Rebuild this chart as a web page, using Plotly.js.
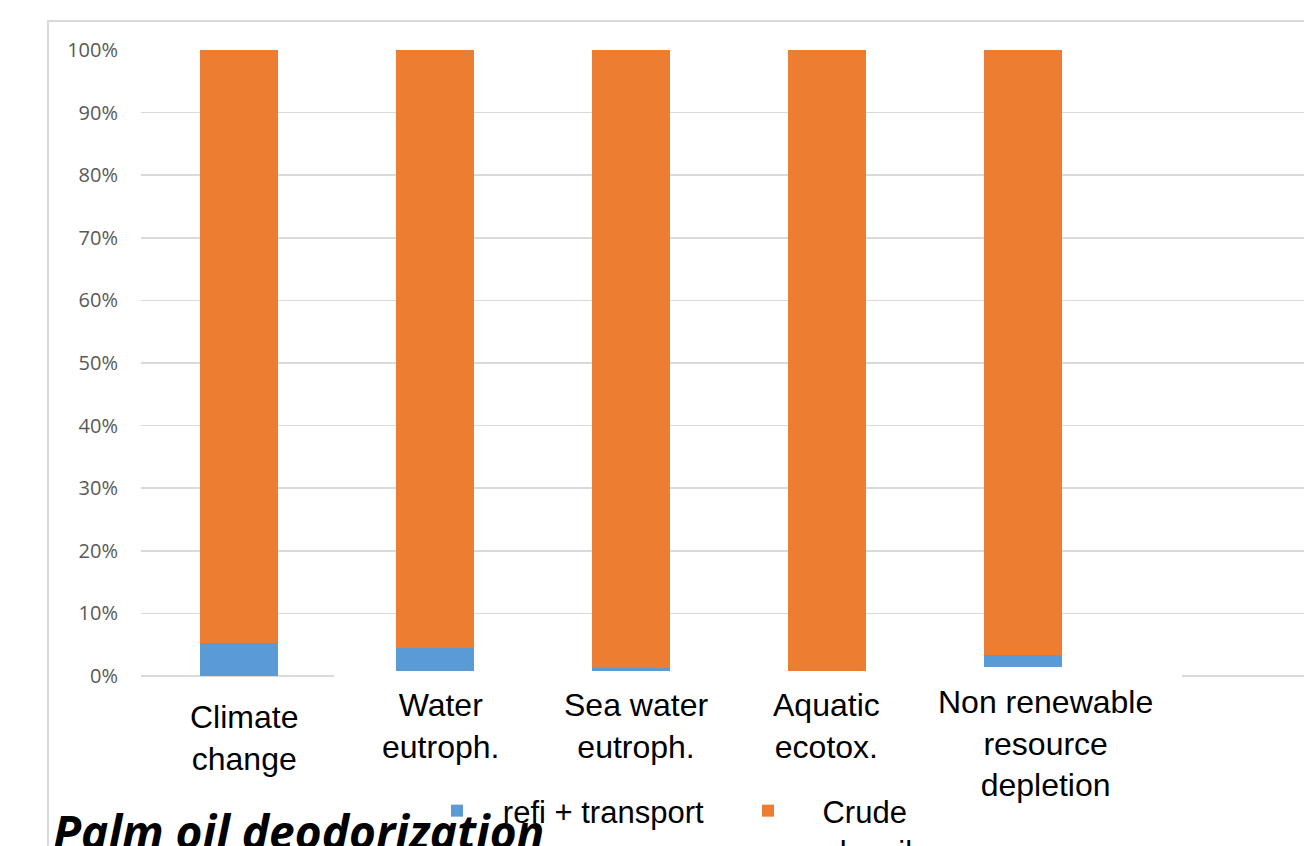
<!DOCTYPE html>
<html>
<head>
<meta charset="utf-8">
<script src="https://cdn.plot.ly/plotly-3.0.1.min.js"></script>
<style>
  html, body { margin: 0; padding: 0; background: #ffffff; overflow: hidden; width: 1304px; height: 846px; }
  #chart { position: absolute; left: 0; top: 0; width: 1330px; height: 846px; }
  #frame { position: absolute; left: 47px; top: 20px; width: 1400px; height: 900px;
           border-left: 2px solid #d9d9d9; border-top: 2px solid #d9d9d9; pointer-events: none; }
</style>
</head>
<body>
<div id="chart"></div>
<div id="frame"></div>
<script>
// ---- data ----
const categories = ['Climate change', 'Water eutroph.', 'Sea water eutroph.', 'Aquatic ecotox.', 'Non renewable resource depletion'];
const categoryLabels = ['Climate<br>change', 'Water<br>eutroph.', 'Sea water<br>eutroph.', 'Aquatic<br>ecotox.', 'Non renewable<br>resource<br>depletion'];
const refiTransport = [0.052, 0.044, 0.013, 0.004, 0.033];
const crudePalmOil = [0.948, 0.956, 0.987, 0.996, 0.967];
const yTickValues = [0, 0.1, 0.2, 0.3, 0.4, 0.5, 0.6, 0.7, 0.8, 0.9, 1.0];
const seriesNames = ['\u00a0\u00a0\u00a0refi + transport', '\u00a0\u00a0\u00a0\u00a0Crude<br>\u00a0\u00a0palm oil'];
const chartTitle = 'Palm oil deodorization';

const W = 1330, H = 846;
const plotLeft = 141, plotTop = 50, plotBottom = 676, plotRight = 1317;

const traces = [
  { type: 'bar', name: seriesNames[0], x: categories, y: refiTransport,
    marker: { color: '#5b9bd5', line: { width: 0 } }, hoverinfo: 'skip' },
  { type: 'bar', name: seriesNames[1], x: categories, y: crudePalmOil,
    marker: { color: '#ed7d31', line: { width: 0 } }, hoverinfo: 'skip' }
];

function paperY(px) { return (plotBottom - px) / (plotBottom - plotTop); }

const labelShiftX = [5, 5, 5, -1, 22];
const labelTopPx = [697, 685, 685, 685, 682];
const annotations = categories.map((c, i) => ({
  x: c, xref: 'x', y: paperY(labelTopPx[i]), yref: 'paper',
  yanchor: 'top', xanchor: 'center', xshift: labelShiftX[i],
  text: categoryLabels[i], showarrow: false, align: 'center',
  font: { family: 'Liberation Sans, Arial, sans-serif', size: 32, color: '#000000' }
}));

const shapes = [
  { type: 'rect', layer: 'above', xref: 'x', yref: 'paper',
    x0: 0.485, x1: 3.41, y0: -0.06, y1: paperY(671),
    fillcolor: '#ffffff', line: { width: 0 } },
  { type: 'rect', layer: 'above', xref: 'x', yref: 'paper',
    x0: 3.40, x1: 4.81, y0: -0.06, y1: paperY(667),
    fillcolor: '#ffffff', line: { width: 0 } }
];

const layout = {
  width: W, height: H,
  paper_bgcolor: '#ffffff', plot_bgcolor: '#ffffff',
  margin: { l: plotLeft, r: W - plotRight, t: plotTop, b: H - plotBottom, pad: 0 },
  barmode: 'stack', bargap: 0.6,
  showlegend: true,
  title: {
    text: chartTitle, xref: 'container', yref: 'container',
    x: 53 / W, xanchor: 'left', y: 1 - 817 / H, yanchor: 'top',
    font: { family: 'Open Sans, sans-serif', size: 46, color: '#000000', weight: 'bold', style: 'italic' }
  },
  xaxis: {
    type: 'category', range: [-0.5, 5.5], showticklabels: false,
    showgrid: false, zeroline: false, showline: false, ticks: ''
  },
  yaxis: {
    range: [0, 1], tickvals: yTickValues, tickformat: '.0%',
    showgrid: true, gridcolor: '#d9d9d9', gridwidth: 1.5,
    zeroline: true, zerolinecolor: '#d9d9d9', zerolinewidth: 1.5,
    showline: false, ticks: '', ticklabelstandoff: 22,
    tickfont: { family: 'Open Sans, sans-serif', size: 20, color: '#595959' }
  },
  legend: {
    orientation: 'h', xref: 'container', yref: 'container',
    x: 437 / W, xanchor: 'left', y: 1 - 784 / H, yanchor: 'top',
    bgcolor: 'rgba(0,0,0,0)', borderwidth: 0,
    entrywidth: 266, entrywidthmode: 'pixels', valign: 'top', traceorder: 'normal',
    font: { family: 'Liberation Sans, Arial, sans-serif', size: 31, color: '#000000' }
  },
  annotations: annotations,
  shapes: shapes
};

Plotly.newPlot('chart', traces, layout, { displayModeBar: false, staticPlot: true }).then(function (gd) {
  // keep the legend drawn on top of the title, as in the reference
  var info = gd.querySelector('.infolayer');
  var leg = gd.querySelector('.infolayer .legend');
  if (info && leg) info.appendChild(leg);
});
</script>
</body>
</html>
